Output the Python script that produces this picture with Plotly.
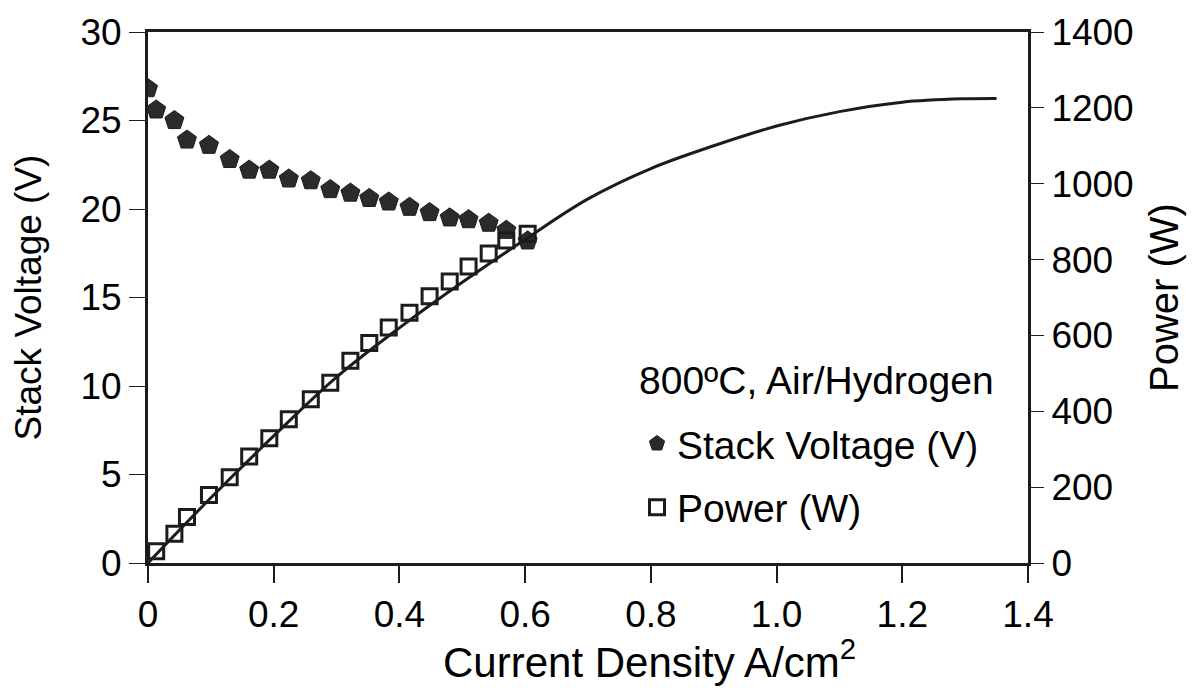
import plotly.graph_objects as go

# Data
current_v = [0.0, 0.013, 0.042, 0.062, 0.097, 0.130, 0.161, 0.193, 0.224, 0.259, 0.290,
             0.322, 0.352, 0.383, 0.416, 0.448, 0.480, 0.510, 0.542, 0.570, 0.604]
stack_voltage = [26.8, 25.6, 25.0, 23.9, 23.6, 22.8, 22.2, 22.2, 21.7, 21.6, 21.1,
                 20.9, 20.6, 20.4, 20.1, 19.8, 19.5, 19.4, 19.2, 18.8, 18.2]

current_p = [0.013, 0.042, 0.062, 0.097, 0.130, 0.161, 0.193, 0.224, 0.259, 0.290,
             0.322, 0.352, 0.383, 0.416, 0.448, 0.480, 0.510, 0.542, 0.570, 0.604]
power = [31, 77, 121, 179, 226, 281, 329, 379, 432, 475,
         533, 580, 621, 660, 703, 742, 782, 816, 850, 868]

curve_i = [0, 0.1, 0.2, 0.3, 0.4, 0.5, 0.6, 0.7, 0.8, 0.9, 1.0, 1.1, 1.2, 1.3, 1.35]
curve_p = [0, 172, 335, 490, 620, 740, 853, 960, 1040, 1100, 1152, 1190, 1215, 1224, 1225]

x_ticks = [0, 0.2, 0.4, 0.6, 0.8, 1.0, 1.2, 1.4]
x_ticktext = ["0", "0.2", "0.4", "0.6", "0.8", "1.0", "1.2", "1.4"]
yl_ticks = [0, 5, 10, 15, 20, 25, 30]
yr_ticks = [0, 200, 400, 600, 800, 1000, 1200, 1400]

FONT = "Liberation Sans, Arial, Helvetica, sans-serif"
INK = "#1c1c1c"

fig = go.Figure()

fig.add_trace(go.Scatter(
    x=curve_i, y=curve_p, mode="lines", yaxis="y2",
    line=dict(color=INK, width=3, shape="spline"),
    showlegend=False, hoverinfo="skip"))

fig.add_trace(go.Scatter(
    x=current_v, y=stack_voltage, mode="markers", name="Stack Voltage (V)",
    marker=dict(symbol="pentagon", size=20, color="#2b2b2b",
                line=dict(color=INK, width=1)),
    legendgroup="a"))

fig.add_trace(go.Scatter(
    x=current_p, y=power, mode="markers", name="Power (W)", yaxis="y2",
    marker=dict(symbol="square-open", size=15, color=INK,
                line=dict(color=INK, width=3)),
    legendgroup="b"))

axis_common = dict(showgrid=False, zeroline=False, showline=True, linecolor=INK,
                   linewidth=3, ticks="outside", tickcolor=INK,
                   tickfont=dict(family=FONT, size=37, color="#000"))

fig.update_layout(
    width=1199, height=689,
    margin=dict(l=148, r=171, t=32, b=126),
    paper_bgcolor="white", plot_bgcolor="white",
    font=dict(family=FONT, color="#000"),
    xaxis=dict(range=[0, 1.4], tickvals=x_ticks, ticktext=x_ticktext,
               ticklen=17, tickwidth=1.5, mirror=True, **axis_common),
    yaxis=dict(range=[0, 30], tickvals=yl_ticks, ticklen=16, tickwidth=1,
               title=dict(text="Stack Voltage (V)", standoff=28,
                          font=dict(family=FONT, size=37, color="#000")),
               **axis_common),
    yaxis2=dict(range=[0, 1400], tickvals=yr_ticks, overlaying="y", side="right",
                ticklen=13, tickwidth=1,
                title=dict(text="Power (W)", standoff=18,
                           font=dict(family=FONT, size=40, color="#000")),
                **axis_common),
    legend=dict(x=0.5557, y=0.285, xanchor="left", yanchor="top",
                bgcolor="rgba(0,0,0,0)", borderwidth=0,
                font=dict(family=FONT, size=39, color="#000"),
                tracegroupgap=10, itemsizing="trace"),
    annotations=[
        dict(text="Current Density A/cm<sup>2</sup>", xref="paper", yref="paper",
             x=0.570, y=-0.180, xanchor="center", yanchor="middle",
             showarrow=False, font=dict(family=FONT, size=42, color="#000")),
        dict(text="800ºC, Air/Hydrogen", xref="paper", yref="paper",
             x=0.5557, y=0.3446, xanchor="left", yanchor="middle",
             showarrow=False, font=dict(family=FONT, size=39, color="#000")),
    ],
)

fig.write_html("out.html")
